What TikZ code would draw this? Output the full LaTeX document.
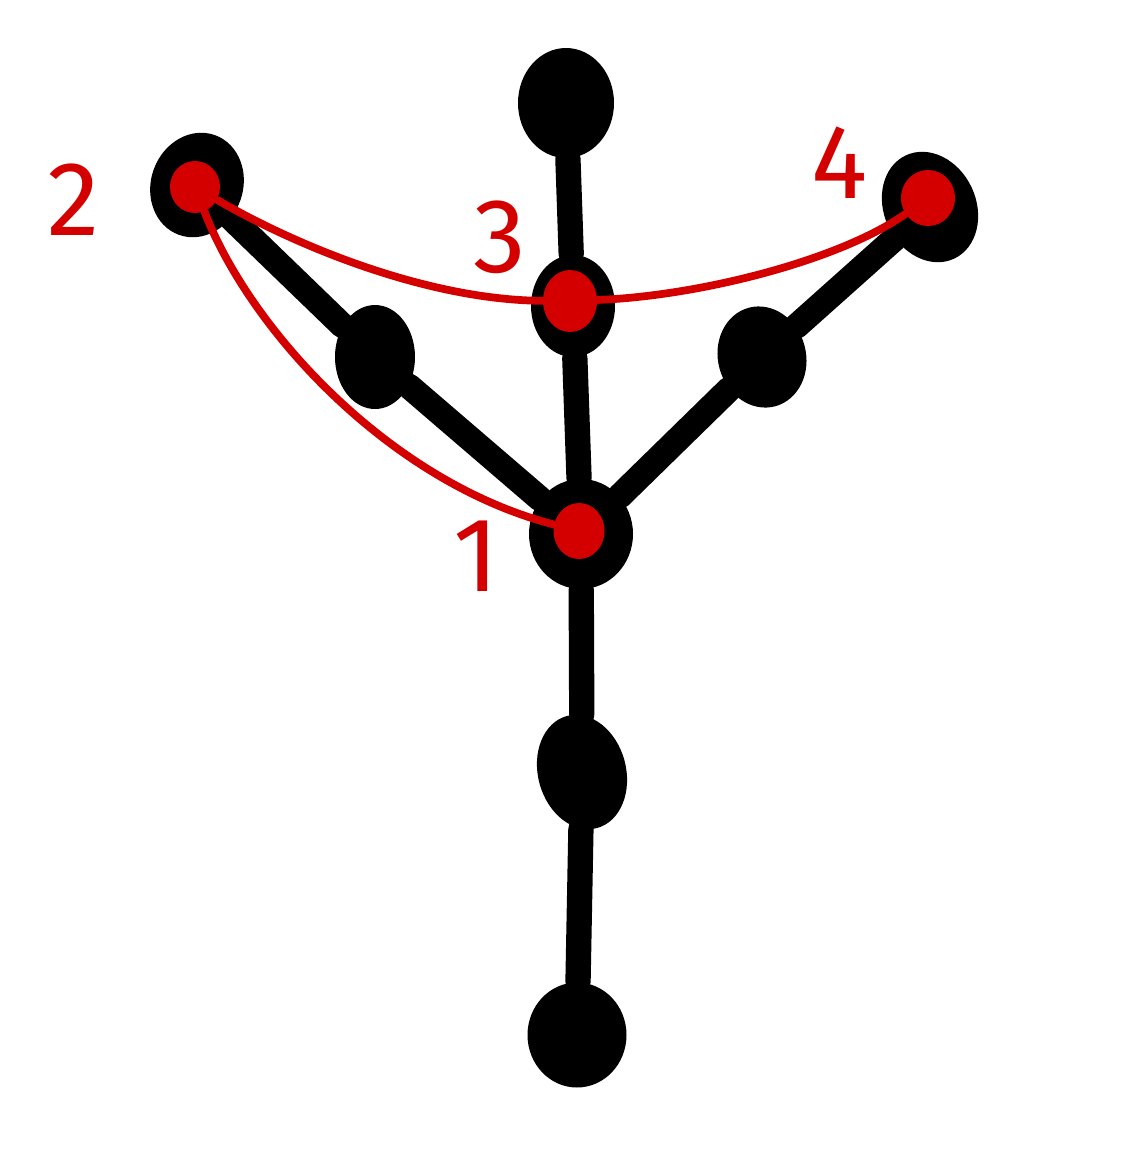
\documentclass[tikz,border=0pt]{standalone}
\usepackage{fontspec}
\setmainfont{Fira Sans}
\usepackage{tikz}
\usetikzlibrary{shapes.geometric}
\definecolor{inkred}{RGB}{212,0,0}
\tikzset{
  blob/.style n args={2}{ellipse,fill=black,inner sep=0pt,
    minimum width=#1*0.01cm,minimum height=#2*0.01cm},
  reddot/.style n args={2}{ellipse,fill=inkred,inner sep=0pt,
    minimum width=#1*0.01cm,minimum height=#2*0.01cm},
  stem/.style={line width=7.2pt,line cap=round},
  redline/.style={inkred,line width=2.2pt,line cap=round},
  numlabel/.style={text=inkred,font=\fontsize{30}{30}\selectfont}
}

\begin{document}
\begin{tikzpicture}[x=0.01cm,y=-0.01cm]
  \useasboundingbox (0,0) rectangle (1137,1157);
  % black tree
  \node[blob={96}{110}] (top) at (566,103) {};
  \node[blob={84}{102}] (v3) at (573,306) {};
  \node[blob={92}{106},rotate=-20] (v2) at (197,185) {};
  \node[blob={92}{114},rotate=25] (v4) at (930,207) {};
  \node[blob={80}{104}] (mL) at (375,357) {};
  \node[blob={88}{102},rotate=15] (mR) at (762,357) {};
  \node[blob={104}{110}] (v1) at (581,534) {};
  \node[blob={88}{116},rotate=15] (low) at (582,772) {};
  \node[blob={99}{105}] (bot) at (577,1035) {};
  \draw[stem] (top) -- (v3);
  \draw[stem] (v3) -- (v1);
  \draw[stem] (v2) -- (mL) -- (v1);
  \draw[stem] (v1) -- (mR) -- (v4);
  \draw[stem] (v1) -- (low) -- (bot);
  % red overlay
  \node[reddot={50}{52}] (r2) at (195,187) {};
  \node[reddot={54}{62}] (r3) at (570,301) {};
  \node[reddot={54}{56}] (r4) at (928,198) {};
  \node[reddot={51}{56}] (r1) at (579,531) {};
  \draw[redline] (r2) .. controls (300,248) and (430,300) .. (r3);
  \draw[redline] (r3) .. controls (700,296) and (840,260) .. (r4);
  \draw[redline] (r2) .. controls (250,330) and (390,482) .. (r1);
  \node[numlabel] (l2) at (74,200) {2};
  \node[numlabel] (l3) at (500,237) {3};
  \node[numlabel] (l4) at (840,163) {4};
  \node[numlabel] (l1) at (476,556) {1};
\end{tikzpicture}
\end{document}
